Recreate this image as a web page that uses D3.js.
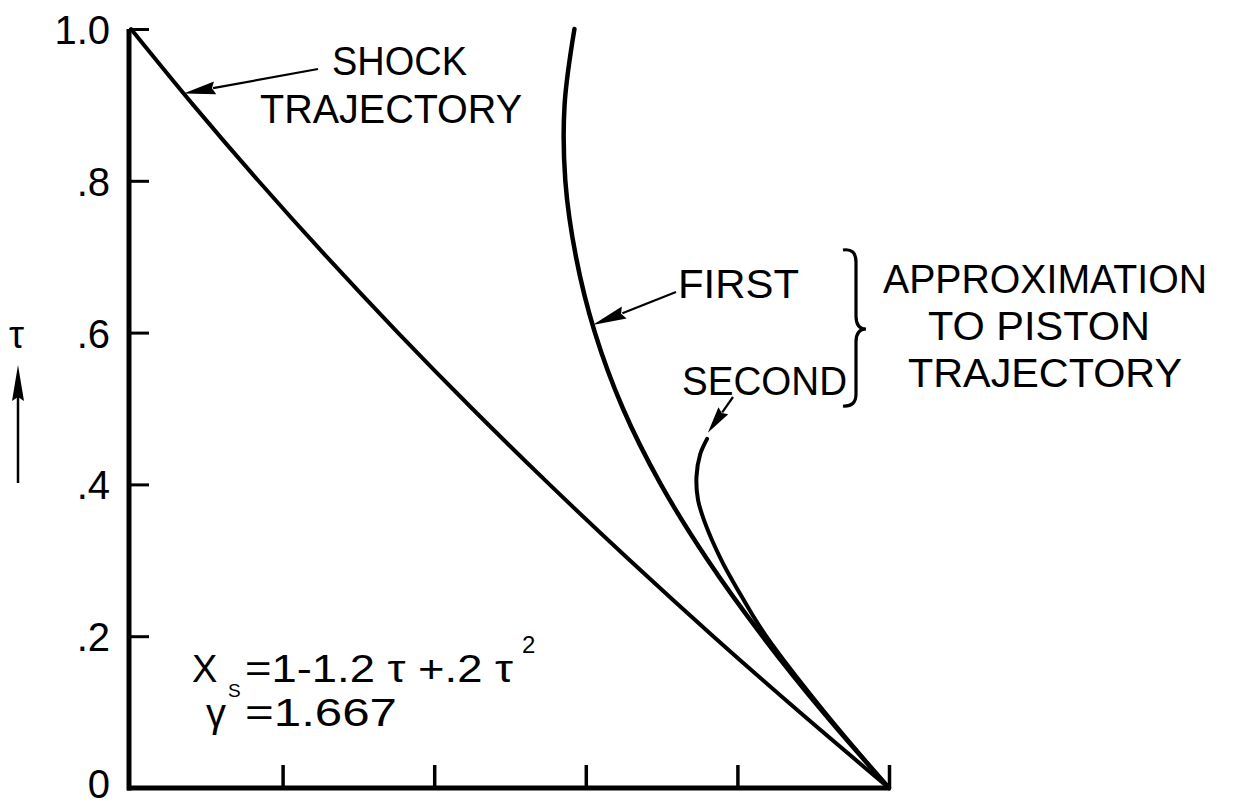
<!DOCTYPE html>
<html>
<head>
<meta charset="utf-8">
<script src="https://cdn.jsdelivr.net/npm/d3@7"></script>
<style>
  html, body { margin: 0; padding: 0; background: #fff; }
  svg { display: block; }
  text { font-family: "Liberation Sans", Arial, sans-serif; fill: #000; }
</style>
</head>
<body>
<svg id="chart" width="1237" height="806"></svg>
<script>
// Shock trajectory, x_s = 1 - 1.2 tau + 0.2 tau^2, sampled
const shockTau = [0, 0.1, 0.2, 0.3, 0.4, 0.5, 0.6, 0.7, 0.8, 0.9, 1.0];
const shockX   = [1.0, 0.882, 0.768, 0.658, 0.552, 0.45, 0.352, 0.258, 0.168, 0.082, 0.0];

// First approximation to the piston trajectory
const firstTau = [0, 0.1, 0.2, 0.3, 0.4, 0.5, 0.6, 0.7, 0.8, 0.9, 1.0];
const firstX   = [1.0, 0.913, 0.833, 0.761, 0.699, 0.649, 0.612, 0.587, 0.573, 0.572, 0.585];

// Second approximation to the piston trajectory
const secondTau = [0, 0.1, 0.2, 0.25, 0.3, 0.35, 0.38, 0.41, 0.44, 0.46];
const secondX   = [1.0, 0.915, 0.838, 0.807, 0.779, 0.757, 0.748, 0.746, 0.751, 0.760];

// Axis ticks
const yTicks = [0, 0.2, 0.4, 0.6, 0.8, 1.0];
const yTickLabels = ["0", ".2", ".4", ".6", ".8", "1.0"];
const xTicks = [0.2, 0.4, 0.6, 0.8, 1.0];

const svg = d3.select("#chart");
const x = d3.scaleLinear().domain([0, 1]).range([131, 889]);
const y = d3.scaleLinear().domain([0, 1]).range([788, 29]);

// ---- axes ----
const yAxis = d3.axisLeft(y)
  .tickValues(yTicks)
  .tickSizeInner(-20)
  .tickSizeOuter(0)
  .tickPadding(19)
  .tickFormat((d, i) => yTickLabels[i]);

const gy = svg.append("g").attr("transform", "translate(129,0)").call(yAxis);
gy.select(".domain").attr("stroke", "#000").attr("stroke-width", 5).attr("d", `M0,${y(0) + 2.5}V${y(1)}`);
gy.selectAll(".tick line").attr("stroke", "#000").attr("stroke-width", 3);
gy.selectAll(".tick text")
  .attr("font-size", 40)
  .attr("font-family", "Liberation Sans, Arial, sans-serif")
  .attr("dy", d => d === 0 ? "0.24em" : "0.36em")
  .attr("fill", "#000");

const xAxis = d3.axisBottom(x)
  .tickValues(xTicks)
  .tickSizeInner(-23)
  .tickSizeOuter(0)
  .tickFormat("");
const gx = svg.append("g").attr("transform", `translate(0,${y(0)})`).call(xAxis);
gx.select(".domain").attr("stroke", "#000").attr("stroke-width", 5).attr("d", `M127,0H${x(1) + 1.5}`);
gx.selectAll(".tick line").attr("stroke", "#000").attr("stroke-width", 3.5);

// ---- curves ----
const line = d3.line()
  .x(d => x(d[0]))
  .y(d => y(d[1]))
  .curve(d3.curveCatmullRom.alpha(0.5));

const series = [
  { xs: shockX,  ts: shockTau,  w: 4 },
  { xs: firstX,  ts: firstTau,  w: 4.5 },
  { xs: secondX, ts: secondTau, w: 4 }
];
series.forEach(s => {
  svg.append("path")
    .datum(s.xs.map((v, i) => [v, s.ts[i]]))
    .attr("d", line)
    .attr("fill", "none")
    .attr("stroke", "#000")
    .attr("stroke-width", s.w)
    .attr("stroke-linecap", "round");
});

// ---- leader arrows (tip on a curve, tail at the label) ----
function arrow(tail, tip, len, hw, w) {
  const dx = tail[0] - tip[0], dy = tail[1] - tip[1];
  const L = Math.hypot(dx, dy), ux = dx / L, uy = dy / L;
  const bx = tip[0] + ux * len, by = tip[1] + uy * len;
  svg.append("line")
    .attr("x1", tail[0]).attr("y1", tail[1])
    .attr("x2", bx - ux * 2).attr("y2", by - uy * 2)
    .attr("stroke", "#000").attr("stroke-width", w);
  svg.append("polygon")
    .attr("points", [
      [tip[0], tip[1]],
      [bx - uy * hw, by + ux * hw],
      [tip[0] + ux * len * 0.9, tip[1] + uy * len * 0.9],
      [bx + uy * hw, by - ux * hw]
    ].map(p => p.join(",")).join(" "))
    .attr("fill", "#000");
}

const callouts = [
  { tipX: 0.0694, tipT: 0.915, tail: [318, 69],  len: 32, hw: 6.5 },
  { tipX: 0.609,  tipT: 0.610, tail: [676, 292], len: 34, hw: 6.5 },
  { tipX: 0.761,  tipT: 0.468, tail: [733, 397], len: 27, hw: 6 }
];
callouts.forEach(c => arrow(c.tail, [x(c.tipX), y(c.tipT)], c.len, c.hw, 2.2));

// ---- labels ----
function label(t, px, py, size, len) {
  const el = svg.append("text")
    .attr("x", px).attr("y", py)
    .attr("font-size", size)
    .text(t);
  if (len) el.attr("textLength", len).attr("lengthAdjust", "spacingAndGlyphs");
  return el;
}

label("SHOCK", 332, 75, 40, 135);
label("TRAJECTORY", 260, 123, 40, 262);
label("FIRST", 678, 298, 40, 121);
label("SECOND", 682, 395, 40, 165);
label("APPROXIMATION", 883, 293, 40, 324);
label("TO PISTON", 928, 340, 40, 222);
label("TRAJECTORY", 908, 387, 40, 274);

// brace grouping FIRST / SECOND
svg.append("path")
  .attr("d", "M843,250 Q856,248 856,262 L856,316 Q856,329 866,329 Q856,329 856,342 L856,394 Q856,407 843,406")
  .attr("fill", "none")
  .attr("stroke", "#000")
  .attr("stroke-width", 3.2);

// formula block: shock law and gas constant
const formula = svg.append("text").attr("font-size", 38);
formula.append("tspan").attr("x", 192).attr("y", 682).text("X");
formula.append("tspan").attr("x", 228).attr("y", 697).attr("font-size", 19).text("S");
formula.append("tspan").attr("x", 245).attr("y", 682)
  .attr("textLength", 268).attr("lengthAdjust", "spacingAndGlyphs")
  .text("=1-1.2 \u03C4 +.2 \u03C4");
formula.append("tspan").attr("x", 522).attr("y", 653).attr("font-size", 24).text("2");

const gammaLine = svg.append("text").attr("font-size", 38);
gammaLine.append("tspan").attr("x", 206).attr("y", 727).attr("font-size", 40).text("\u03B3");
gammaLine.append("tspan").attr("x", 245).attr("y", 726)
  .attr("textLength", 152).attr("lengthAdjust", "spacingAndGlyphs")
  .text("=1.667");

// vertical axis title with arrow
label("\u03C4", 9, 348, 38);
svg.append("line")
  .attr("x1", 18).attr("y1", 483).attr("x2", 18).attr("y2", 395)
  .attr("stroke", "#000").attr("stroke-width", 2.5);
svg.append("polygon")
  .attr("points", "18,365 12,401 18,397 24,401")
  .attr("fill", "#000");
</script>
</body>
</html>
